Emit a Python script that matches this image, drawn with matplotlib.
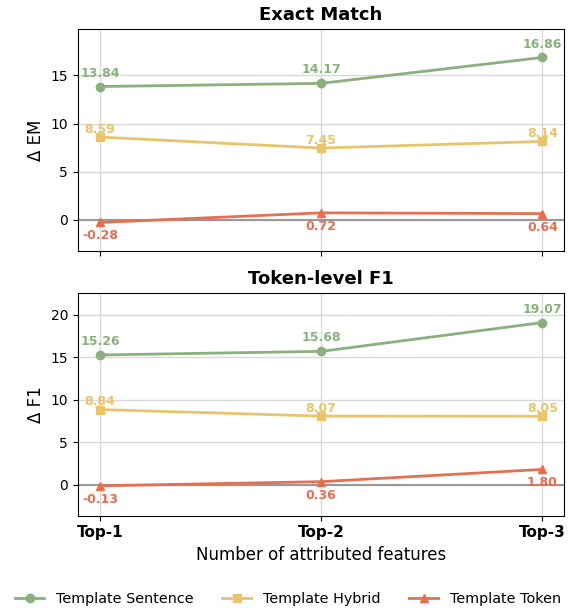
import matplotlib.pyplot as plt
import numpy as np

# Data
categories = ['Top-1', 'Top-2', 'Top-3']
series_names = ['Template Sentence', 'Template Hybrid', 'Template Token']
em_sentence = [13.84, 14.17, 16.86]
em_hybrid = [8.59, 7.45, 8.14]
em_token = [-0.28, 0.72, 0.64]
f1_sentence = [15.26, 15.68, 19.07]
f1_hybrid = [8.84, 8.07, 8.05]
f1_token = [-0.13, 0.36, 1.80]

colors = ['#8AB17D', '#E9C46A', '#E76F51']
markers = ['o', 's', '^']
# label offsets in points (above, nearly on top, below)
offsets = [(0, 5), (0, 1), (0, -5)]
valigns = ['bottom', 'bottom', 'top']

x = np.arange(len(categories))

fig, axes = plt.subplots(2, 1, figsize=(5.76, 6.08), dpi=100, sharex=True)

panels = [
    ('Exact Match', '\u0394 EM', [em_sentence, em_hybrid, em_token], (-3.28, 19.86)),
    ('Token-level F1', '\u0394 F1', [f1_sentence, f1_hybrid, f1_token], (-3.63, 22.57)),
]

handles = []
for ax, (title, ylabel, data, ylim) in zip(axes, panels):
    ax.axhline(0, color='#999999', linewidth=1.5, zorder=1)
    for vals, name, c, m, off, va in zip(data, series_names, colors, markers, offsets, valigns):
        h, = ax.plot(x, vals, color=c, marker=m, markersize=6, linewidth=2,
                     label=name, zorder=3)
        if ax is axes[0]:
            handles.append(h)
        for xi, v in zip(x, vals):
            ax.annotate(f'{v:.2f}', (xi, v), xytext=off, textcoords='offset points',
                        ha='center', va=va, fontsize=9, fontweight='bold', color=c)
    ax.set_title(title, fontsize=13, fontweight='bold')
    ax.set_ylabel(ylabel, fontsize=12)
    ax.set_ylim(*ylim)
    ax.set_xlim(-0.1, 2.1)
    ax.grid(True, color='#d9d9d9', linewidth=1)
    ax.set_axisbelow(True)
    ax.tick_params(axis='y', labelsize=10)

axes[1].set_xticks(x)
axes[1].set_xticklabels(categories, fontsize=11, fontweight='bold')
axes[1].set_xlabel('Number of attributed features', fontsize=12)

fig.legend(handles=handles, loc='lower center', ncol=3, frameon=False,
           fontsize=10.4, bbox_to_anchor=(0.5, -0.018))
fig.subplots_adjust(left=0.135, right=0.98, top=0.953, bottom=0.152, hspace=0.186)
fig.savefig('out.png')
